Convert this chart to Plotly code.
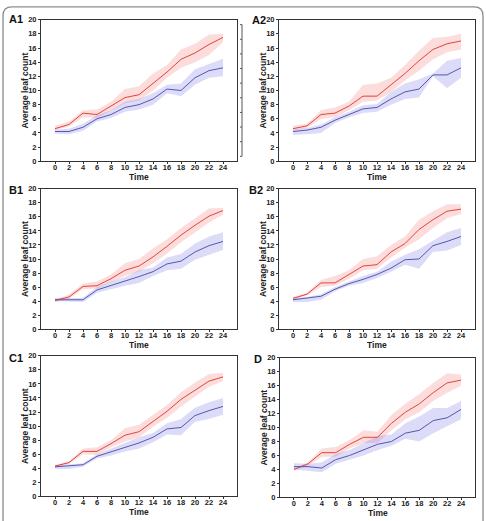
import plotly.graph_objects as go

W, H = 486, 521

time = [0, 2, 4, 6, 8, 10, 12, 14, 16, 18, 20, 22, 24]
x_ticks = [0, 2, 4, 6, 8, 10, 12, 14, 16, 18, 20, 22, 24]
y_ticks = [0, 2, 4, 6, 8, 10, 12, 14, 16, 18, 20]
panel_names = ["A1", "A2", "B1", "B2", "C1", "D"]

# ---- A1 ----
A1_red = [4.6, 5.2, 6.8, 6.6, 7.8, 9.0, 9.4, 11.0, 12.6, 14.4, 15.3, 16.5, 17.5]
A1_red_hi = [5.0, 5.6, 7.2, 7.3, 8.4, 10.2, 10.6, 12.4, 13.6, 15.8, 16.6, 17.9, 18.0]
A1_red_lo = [4.4, 4.9, 6.2, 6.1, 7.2, 8.2, 8.6, 10.0, 11.8, 13.2, 14.0, 15.0, 16.8]
A1_blue = [4.2, 4.2, 4.8, 6.0, 6.6, 7.6, 8.0, 8.8, 10.2, 10.0, 11.8, 12.8, 13.2]
A1_blue_hi = [4.5, 4.6, 5.3, 6.5, 7.2, 8.4, 8.8, 9.6, 10.8, 11.0, 13.0, 13.8, 14.5]
A1_blue_lo = [3.9, 3.8, 4.3, 5.6, 6.1, 7.0, 7.3, 8.0, 9.6, 9.2, 10.8, 11.8, 12.0]

# ---- A2 ----
A2_red = [4.6, 5.0, 6.6, 6.8, 7.8, 9.2, 9.2, 10.8, 12.4, 14.2, 15.8, 16.6, 17.0]
A2_red_hi = [5.0, 5.3, 7.2, 7.6, 8.4, 10.8, 11.0, 11.8, 13.6, 15.6, 17.4, 17.6, 18.0]
A2_red_lo = [4.3, 4.7, 6.0, 6.2, 7.2, 8.4, 8.6, 9.8, 11.4, 12.8, 14.4, 15.4, 15.8]
A2_blue = [4.2, 4.4, 4.8, 5.8, 6.6, 7.4, 7.6, 8.8, 9.8, 10.2, 12.2, 12.2, 13.2]
A2_blue_hi = [4.5, 4.7, 5.2, 6.2, 7.0, 7.9, 8.1, 9.8, 11.0, 11.6, 12.4, 14.2, 14.6]
A2_blue_lo = [3.7, 3.8, 4.0, 5.4, 6.2, 6.8, 7.0, 8.0, 8.8, 9.0, 12.0, 10.3, 11.8]

# ---- B1 ----
B1_red = [4.1, 4.6, 6.1, 6.2, 7.2, 8.4, 9.0, 10.3, 11.8, 13.4, 14.8, 16.1, 16.9]
B1_red_hi = [4.3, 4.9, 6.5, 6.8, 7.8, 9.4, 10.0, 11.5, 12.8, 14.4, 15.8, 17.2, 17.3]
B1_red_lo = [3.9, 4.3, 5.7, 5.8, 6.7, 7.6, 8.2, 9.4, 10.8, 12.4, 13.8, 15.2, 16.3]
B1_blue = [4.2, 4.2, 4.2, 5.6, 6.2, 6.8, 7.5, 8.2, 9.3, 9.7, 11.0, 11.9, 12.5]
B1_blue_hi = [4.4, 4.4, 4.5, 6.0, 6.8, 7.4, 8.4, 8.8, 10.2, 10.7, 12.2, 13.2, 13.8]
B1_blue_lo = [4.0, 3.9, 3.9, 5.2, 5.7, 6.2, 6.6, 7.6, 8.4, 8.6, 9.9, 10.6, 11.3]

# ---- B2 ----
B2_red = [4.4, 5.0, 6.6, 6.6, 7.8, 9.0, 9.2, 11.0, 12.2, 14.2, 15.6, 16.8, 17.1]
B2_red_hi = [4.6, 5.2, 7.0, 7.6, 8.4, 10.0, 10.4, 12.0, 13.2, 15.6, 16.8, 17.8, 17.8]
B2_red_lo = [4.2, 4.8, 6.0, 6.2, 7.2, 8.4, 8.6, 10.2, 11.6, 12.8, 14.4, 15.8, 16.4]
B2_blue = [4.2, 4.5, 4.7, 5.7, 6.5, 7.1, 7.8, 8.7, 9.9, 10.0, 11.9, 12.5, 13.2]
B2_blue_hi = [4.4, 4.6, 5.0, 6.0, 6.8, 7.6, 8.2, 9.6, 10.6, 11.4, 12.6, 13.8, 14.4]
B2_blue_lo = [3.9, 3.9, 4.2, 5.4, 6.2, 6.6, 7.3, 8.2, 9.2, 8.6, 11.0, 11.2, 12.0]

# ---- C1 ----
C1_red = [4.3, 4.8, 6.4, 6.4, 7.5, 8.7, 9.2, 10.7, 12.1, 13.8, 15.1, 16.4, 17.0]
C1_red_hi = [4.5, 5.0, 6.8, 7.0, 8.0, 9.7, 10.2, 11.6, 13.0, 14.8, 16.2, 17.4, 17.6]
C1_red_lo = [4.1, 4.6, 6.0, 5.9, 7.0, 7.8, 8.4, 9.9, 11.2, 12.8, 14.2, 15.6, 16.4]
C1_blue = [4.2, 4.3, 4.5, 5.7, 6.3, 6.9, 7.6, 8.4, 9.6, 9.8, 11.5, 12.2, 12.8]
C1_blue_hi = [4.4, 4.5, 4.7, 6.0, 6.8, 7.5, 8.4, 9.0, 10.4, 11.0, 12.6, 13.4, 14.0]
C1_blue_lo = [3.9, 3.9, 4.2, 5.4, 5.8, 6.4, 6.8, 7.7, 8.8, 8.7, 10.6, 11.0, 11.6]

# ---- D ----
D_red = [4.0, 4.8, 6.4, 6.4, 7.6, 8.6, 8.6, 10.6, 12.2, 13.4, 15.0, 16.4, 16.8]
D_red_hi = [4.2, 5.0, 7.0, 7.2, 8.2, 9.6, 9.4, 11.8, 13.4, 14.8, 16.4, 17.8, 17.6]
D_red_lo = [3.8, 4.5, 5.8, 5.8, 7.0, 7.8, 7.8, 9.6, 11.2, 12.2, 13.8, 15.0, 16.0]
D_blue = [4.4, 4.4, 4.2, 5.4, 6.0, 6.8, 7.6, 8.0, 9.2, 9.6, 11.0, 11.4, 12.6]
D_blue_hi = [4.9, 4.8, 5.0, 6.2, 6.8, 7.8, 8.8, 9.0, 10.6, 11.6, 12.8, 12.8, 13.8]
D_blue_lo = [4.0, 3.8, 3.6, 4.8, 5.4, 6.0, 6.8, 7.4, 8.4, 8.0, 9.2, 10.2, 11.2]

data = {
    "A1": (A1_red, A1_red_hi, A1_red_lo, A1_blue, A1_blue_hi, A1_blue_lo),
    "A2": (A2_red, A2_red_hi, A2_red_lo, A2_blue, A2_blue_hi, A2_blue_lo),
    "B1": (B1_red, B1_red_hi, B1_red_lo, B1_blue, B1_blue_hi, B1_blue_lo),
    "B2": (B2_red, B2_red_hi, B2_red_lo, B2_blue, B2_blue_hi, B2_blue_lo),
    "C1": (C1_red, C1_red_hi, C1_red_lo, C1_blue, C1_blue_hi, C1_blue_lo),
    "D": (D_red, D_red_hi, D_red_lo, D_blue, D_blue_hi, D_blue_lo),
}

# pixel boxes: left, right, top, bottom
boxes = {
    "A1": (41, 237, 16, 160),
    "A2": (279, 475, 16, 160),
    "B1": (41, 237, 188, 331),
    "B2": (279, 475, 188, 331),
    "C1": (41, 237, 358, 501),
    "D": (280, 475, 360, 502),
}
label_pos = {"A1": (7, 15), "A2": (250, 16), "B1": (7, 189), "B2": (247, 189),
             "C1": (7, 360), "D": (252, 361)}

RED = "#e0453f"
BLUE = "#5656b0"
RED_FILL = "rgba(250,140,140,0.30)"
BLUE_FILL = "rgba(130,130,235,0.28)"
FONT = "Arial, Liberation Sans, sans-serif"

fig = go.Figure()
annotations = []
layout = {}

for i, name in enumerate(panel_names, start=1):
    red, red_hi, red_lo, blue, blue_hi, blue_lo = data[name]
    l, r, t, b = boxes[name]
    xa, ya = f"x{i}", f"y{i}"
    xk = "xaxis" if i == 1 else f"xaxis{i}"
    yk = "yaxis" if i == 1 else f"yaxis{i}"
    xd = [l / W, r / W]
    yd = [1 - b / H, 1 - t / H]

    for hi, lo, fc in ((red_hi, red_lo, RED_FILL), (blue_hi, blue_lo, BLUE_FILL)):
        fig.add_trace(go.Scatter(
            x=time + time[::-1], y=hi + lo[::-1], fill="toself", fillcolor=fc,
            line=dict(width=0), mode="lines", hoverinfo="skip", showlegend=False,
            xaxis=xa, yaxis=ya))
    fig.add_trace(go.Scatter(x=time, y=red, mode="lines", line=dict(color=RED, width=1),
                             showlegend=False, xaxis=xa, yaxis=ya))
    fig.add_trace(go.Scatter(x=time, y=blue, mode="lines", line=dict(color=BLUE, width=1),
                             showlegend=False, xaxis=xa, yaxis=ya))

    tickfont = dict(family=FONT, size=7.5, color="#222", weight="bold")
    layout[xk] = dict(domain=xd, anchor=ya, range=[-2, 26], tickvals=x_ticks,
                      ticks="outside", ticklen=2, tickwidth=1, tickcolor="#333",
                      showline=True, linecolor="#333", linewidth=1, mirror=True,
                      showgrid=False, zeroline=False, ticklabelstandoff=-3,
                      tickfont=tickfont)
    layout[yk] = dict(domain=yd, anchor=xa, range=[0, 20], tickvals=y_ticks,
                      ticks="outside", ticklen=2, tickwidth=1, tickcolor="#333",
                      showline=True, linecolor="#333", linewidth=1, mirror=True,
                      showgrid=False, zeroline=False, ticklabelstandoff=0,
                      tickfont=tickfont)
    # mirrored inward ticks on top and right
    j = i + 6
    layout[f"xaxis{j}"] = dict(domain=xd, anchor=ya, overlaying=xa, side="top",
                               range=[-2, 26], tickvals=x_ticks, ticks="inside",
                               ticklen=2, tickcolor="#333", showticklabels=False,
                               showline=False, showgrid=False, zeroline=False)
    layout[f"yaxis{j}"] = dict(domain=yd, anchor=xa, overlaying=ya, side="right",
                               range=[0, 20], tickvals=y_ticks, ticks="inside",
                               ticklen=2, tickcolor="#333", showticklabels=False,
                               showline=False, showgrid=False, zeroline=False)

    # axis titles
    annotations.append(dict(text="<b>Time</b>", xref="paper", yref="paper",
                            x=(l + r) / 2 / W, y=1 - (b + 16) / H, showarrow=False,
                            xanchor="center", yanchor="middle",
                            font=dict(family=FONT, size=8.5, color="#222")))
    annotations.append(dict(text="<b>Average leaf count</b>", xref="paper", yref="paper",
                            x=(l - 16) / W, y=1 - (t + b) / 2 / H, showarrow=False,
                            textangle=-90, xanchor="center", yanchor="middle",
                            font=dict(family=FONT, size=8.5, color="#222")))
    lx, ly = label_pos[name]
    annotations.append(dict(text=f"<b>{name}</b>", xref="paper", yref="paper",
                            x=lx / W, y=1 - ly / H, showarrow=False,
                            xanchor="left", yanchor="middle",
                            font=dict(family=FONT, size=11, color="#111")))

# outer rounded frame (bottom edge cut off by the image)
def px(x):
    return x / W

def py(y):
    return 1 - y / H

rad = 9
frame_path = (f"M {px(3)} {py(530)} L {px(3)} {py(3 + rad)} "
              f"Q {px(3)} {py(3)} {px(3 + rad)} {py(3)} "
              f"L {px(483 - rad)} {py(3)} Q {px(483)} {py(3)} {px(483)} {py(3 + rad)} "
              f"L {px(483)} {py(530)}")
shapes = [dict(type="path", path=frame_path, xref="paper", yref="paper",
               line=dict(color="#8c8c8c", width=1.3))]

# stray scale bar between A1 and A2
shapes.append(dict(type="line", xref="paper", yref="paper", x0=px(242), x1=px(242),
                   y0=py(21), y1=py(155), line=dict(color="#555", width=1)))
for k in range(10):
    yy = 21 + k * (134 / 9)
    shapes.append(dict(type="line", xref="paper", yref="paper", x0=px(240), x1=px(242),
                       y0=py(yy), y1=py(yy), line=dict(color="#555", width=1)))

fig.update_layout(
    width=W, height=H, margin=dict(l=0, r=0, t=0, b=0),
    paper_bgcolor="white", plot_bgcolor="white",
    annotations=annotations, shapes=shapes, showlegend=False,
    **layout,
)

fig.write_html("out.html")
